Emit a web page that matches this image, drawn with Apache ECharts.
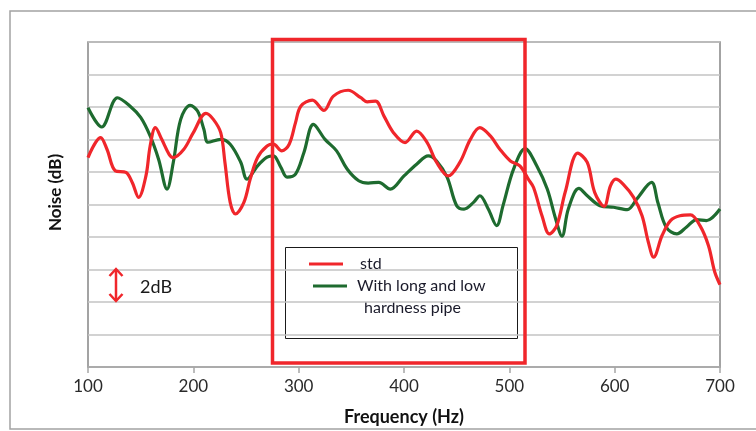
<!DOCTYPE html>
<html>
<head>
<meta charset="utf-8">
<script src="https://cdn.jsdelivr.net/npm/echarts@6/dist/echarts.min.js"></script>
<style>
html,body{margin:0;padding:0;background:#fff;}
#chart{width:756px;height:431px;}
</style>
</head>
<body>
<div id="chart"></div>
<script>
// Frequency (Hz) and relative noise level (dB)
const stdFreq = [100,112,118,126,136,142,148,155,159,164,170,177,181,191,200,212,219,226,230,235,240,248,254,261,270,276,284,291,297,302,313,324,333,347,359,365,373,381,390,401,412,422,431,442,453,463,472,482,491,501,510,518,523,531,538,545,553,565,574,581,590,596,601,608,618,626,632,637,645,653,662,672,681,689,695,700];
const stdNoise = [72.89,74.12,73.40,72.07,71.97,71.36,70.44,71.76,73.60,74.73,74.01,73.09,72.89,73.40,74.42,75.61,75.24,74.42,72.59,70.13,69.42,70.13,71.56,72.89,73.60,73.71,73.30,73.71,75.04,76.05,76.42,75.79,76.67,77.03,76.57,76.32,76.36,75.44,74.42,73.81,74.52,73.81,72.59,71.76,72.59,74.01,74.73,74.22,73.40,72.68,72.38,71.56,71.05,69.31,68.19,68.70,70.75,73.16,72.59,70.75,69.89,71.15,71.56,71.26,70.44,69.31,67.68,66.76,68.09,69.01,69.31,69.36,68.70,67.48,65.85,65.07];
const pipeFreq = [100,113,128,140,150,159,167,175,181,188,197,204,210,214,226,235,245,251,261,270,276,283,289,297,305,314,325,336,346,357,366,376,387,400,412,423,431,441,450,457,466,472,480,488,494,504,515,526,536,544,550,556,566,574,586,599,612,621,635,641,649,659,668,678,687,700];
const pipeNoise = [75.96,74.77,76.57,76.05,75.36,74.22,72.79,70.95,72.60,75.24,76.10,75.75,74.63,73.83,74.01,73.71,72.60,71.56,72.38,72.91,72.99,72.30,71.69,71.87,73.20,74.93,74.01,73.30,72.18,71.46,71.32,71.36,70.95,71.76,72.48,72.99,72.68,71.67,69.93,69.72,70.13,70.54,69.72,68.70,69.93,72.18,73.44,72.38,70.95,69.11,68.05,69.72,70.99,70.54,69.93,69.83,69.68,70.34,71.36,70.13,68.60,68.19,68.60,69.07,69.01,69.72];
const xTicks = {min: 100, max: 700, step: 100};
const seriesNames = ['std', 'With long and low hardness pipe'];
const legendLabels = ['std', 'With long and low', 'hardness pipe'];
const scaleLabel = '2dB';

const RED = '#f0262b';
const GREEN = '#1e6b2f';
const FONT = 'Lato, "Open Sans", sans-serif';

const zip = (a, b) => a.map((v, i) => [v, b[i]]);

const chart = echarts.init(document.getElementById('chart'), null, {renderer: 'canvas'});
chart.setOption({
  animation: false,
  backgroundColor: '#fff',
  grid: {left: 88, right: 36, top: 42, bottom: 62, show: true, borderColor: '#858585', borderWidth: 1.5, backgroundColor: 'transparent'},
  xAxis: {
    type: 'value', min: xTicks.min, max: xTicks.max, interval: xTicks.step,
    name: 'Frequency (Hz)', nameLocation: 'middle', nameGap: 41,
    nameTextStyle: {fontFamily: FONT, fontWeight: 'bold', fontSize: 18, color: '#111'},
    axisLine: {lineStyle: {color: '#a6a6a6', width: 1.5}},
    axisTick: {show: true, length: 6, inside: false, lineStyle: {color: '#a6a6a6', width: 1.5}},
    axisLabel: {fontFamily: FONT, fontSize: 17, color: '#2a2a2a', margin: 11},
    splitLine: {show: false}
  },
  yAxis: {
    type: 'value', min: 60, max: 80, interval: 2,
    name: 'Noise (dB)', nameLocation: 'middle', nameGap: 24, nameRotate: 90,
    nameTextStyle: {fontFamily: FONT, fontWeight: 'bold', fontSize: 17, color: '#111', padding: [0, 0, 0, 24]},
    axisLine: {show: false}, axisTick: {show: false}, axisLabel: {show: false},
    splitLine: {show: true, lineStyle: {color: '#c3c3c3', width: 1.5}}
  },
  series: [
    {name: seriesNames[0], type: 'line', data: zip(stdFreq, stdNoise), smooth: 0.35, showSymbol: false,
     lineStyle: {color: RED, width: 3.2}, itemStyle: {color: RED}, z: 3},
    {name: seriesNames[1], type: 'line', data: zip(pipeFreq, pipeNoise), smooth: 0.35, showSymbol: false,
     lineStyle: {color: GREEN, width: 3.2}, itemStyle: {color: GREEN}, z: 2}
  ],
  graphic: [
    {type: 'rect', shape: {x: 10, y: 11, width: 760, height: 418}, style: {fill: 'none', stroke: '#a3a3a3', lineWidth: 1.5}, z: 0, silent: true},
    {type: 'rect', shape: {x: 272.5, y: 39.5, width: 252.5, height: 323.5}, style: {fill: 'none', stroke: '#f0262b', lineWidth: 3.5}, z: 10},
    {type: 'group', left: 285, top: 247, z: 20, children: [
      {type: 'rect', shape: {x: 0.5, y: 0.5, width: 232, height: 91}, style: {fill: '#fff', stroke: '#1a1a1a', lineWidth: 1}},
      {type: 'line', shape: {x1: 24, y1: 17, x2: 58, y2: 17}, style: {stroke: RED, lineWidth: 3}},
      {type: 'text', style: {x: 75, y: 17, text: legendLabels[0], font: '16px ' + FONT, fill: '#1a1a2a', verticalAlign: 'middle'}},
      {type: 'line', shape: {x1: 28, y1: 39, x2: 62, y2: 39}, style: {stroke: GREEN, lineWidth: 3}},
      {type: 'text', style: {x: 72, y: 39, text: legendLabels[1], font: '16px ' + FONT, fill: '#1a1a2a', verticalAlign: 'middle'}},
      {type: 'text', style: {x: 79, y: 61, text: legendLabels[2], font: '16px ' + FONT, fill: '#1a1a2a', verticalAlign: 'middle'}}
    ]},
    {type: 'polyline', shape: {points: [[116, 269], [116, 301]]}, style: {stroke: RED, lineWidth: 2.5}, z: 10},
    {type: 'polyline', shape: {points: [[109.5, 276], [116, 269], [122.5, 276]]}, style: {stroke: RED, lineWidth: 2.5, fill: 'none'}, z: 10},
    {type: 'polyline', shape: {points: [[109.5, 294], [116, 301], [122.5, 294]]}, style: {stroke: RED, lineWidth: 2.5, fill: 'none'}, z: 10},
    {type: 'text', style: {x: 140, y: 287, text: scaleLabel, font: '18px ' + FONT, fill: '#1a1a1a', verticalAlign: 'middle'}, z: 10}
  ]
});
</script>
</body>
</html>
